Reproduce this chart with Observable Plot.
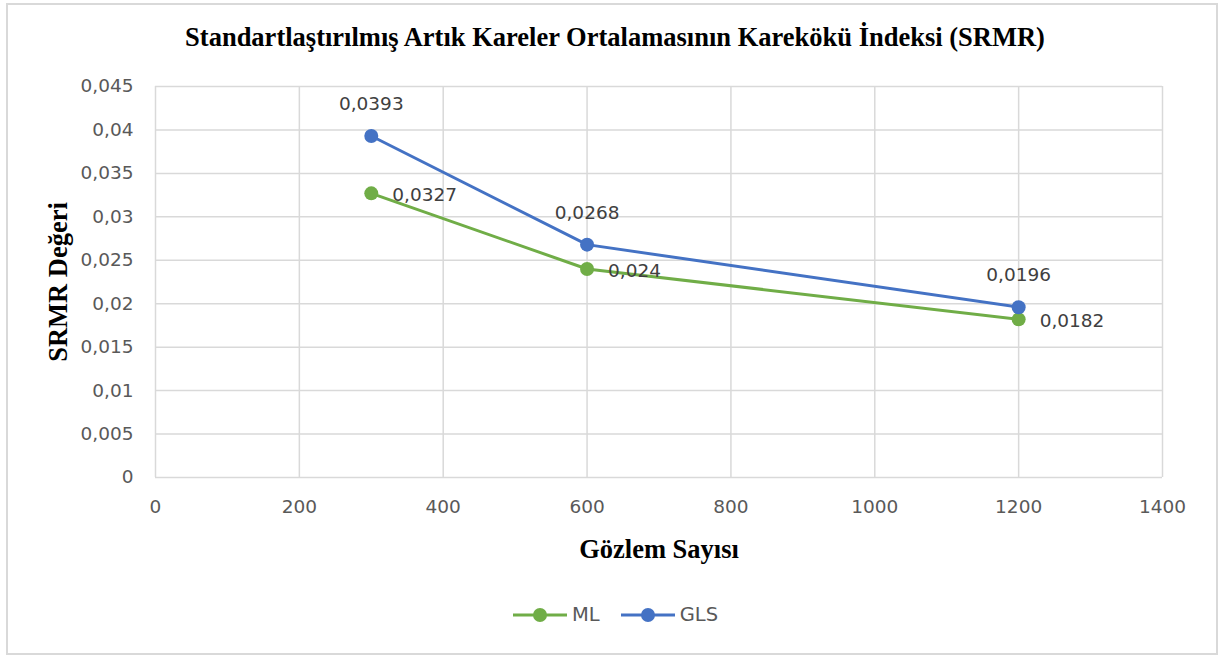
<!DOCTYPE html>
<html><head><meta charset="utf-8">
<script src="https://cdn.jsdelivr.net/npm/d3@7"></script>
<script src="https://cdn.jsdelivr.net/npm/@observablehq/plot@0.6"></script>
<style>
body{margin:0;background:#fff;}
#wrap{position:absolute;left:6px;top:3px;width:1208px;height:648px;border:2px solid #d9d9d9;box-sizing:content-box;}
#title{position:absolute;left:0;top:22px;width:1230px;text-align:center;font-family:"Liberation Serif","Times New Roman",serif;font-weight:bold;font-size:26.5px;color:#000;}
#chart{position:absolute;left:0;top:60px;}
#legend{position:absolute;left:0;top:603px;width:1230px;display:flex;justify-content:center;gap:20px;font-family:"DejaVu Sans",sans-serif;font-size:19.5px;color:#595959;}
.item{display:flex;align-items:center;gap:4px;}
</style></head>
<body>
<div id="wrap"></div>
<div id="title">Standartlaştırılmış Artık Kareler Ortalamasının Karekökü İndeksi (SRMR)</div>
<div id="chart"></div>
<div id="legend"></div>
<script>
const observations = [300, 600, 1200];
const mlValues = [0.0327, 0.024, 0.0182];
const glsValues = [0.0393, 0.0268, 0.0196];
const seriesNames = ["ML", "GLS"];
const seriesColors = ["#70AD47", "#4472C4"];
const xTicks = [0, 200, 400, 600, 800, 1000, 1200, 1400];
const yTicks = [0, 0.005, 0.01, 0.015, 0.02, 0.025, 0.03, 0.035, 0.04, 0.045];

const data = [];
observations.forEach((n, i) => {
  data.push({series: "ML", n, v: mlValues[i]});
  data.push({series: "GLS", n, v: glsValues[i]});
});
const fmt = v => String(v).replace(".", ",");
const ml = data.filter(d => d.series === "ML");
const gls = data.filter(d => d.series === "GLS");
const FONT = "'DejaVu Sans', sans-serif";

const chart = Plot.plot({
  width: 1230,
  height: 520,
  marginLeft: 155,
  marginRight: 68,
  marginTop: 26,
  marginBottom: 103,
  style: {fontFamily: FONT, fontSize: "18.5px", color: "#595959", background: "transparent"},
  x: {domain: [0, 1400]},
  y: {domain: [0, 0.045]},
  color: {domain: seriesNames, range: seriesColors},
  marks: [
    Plot.gridX(xTicks, {stroke: "#d9d9d9", strokeOpacity: 1, strokeWidth: 1.5}),
    Plot.gridY(yTicks, {stroke: "#d9d9d9", strokeOpacity: 1, strokeWidth: 1.5}),
    Plot.axisX(xTicks, {tickSize: 0, tickPadding: 22, tickFormat: d => String(d), fontSize: 18.5, fill: "#595959",
      label: "Gözlem Sayısı", labelAnchor: "center", labelArrow: "none", labelOffset: 80}),
    Plot.axisY(yTicks, {tickSize: 0, tickPadding: 22, tickFormat: fmt, fontSize: 18.5, fill: "#595959",
      label: "SRMR Değeri", labelAnchor: "center", labelArrow: "none", labelOffset: 107}),
    Plot.line(data, {x: "n", y: "v", z: "series", stroke: "series", strokeWidth: 3}),
    Plot.dot(data, {x: "n", y: "v", fill: "series", r: 7}),
    Plot.text(gls, {x: "n", y: "v", text: d => fmt(d.v), dy: -32, fill: "#404040", fontSize: 18.5}),
    Plot.text(ml, {x: "n", y: "v", text: d => fmt(d.v), dx: 21, dy: 2, textAnchor: "start", fill: "#404040", fontSize: 18.5})
  ]
});
// style axis labels (serif bold)
chart.querySelectorAll("g[aria-label='x-axis label'] text, g[aria-label='y-axis label'] text").forEach(t => {
  t.setAttribute("font-family", "'Liberation Serif', 'Times New Roman', serif");
  t.setAttribute("font-weight", "bold");
  t.setAttribute("font-size", "26.5px");
  t.setAttribute("fill", "#000");
  t.style.fontFamily = "'Liberation Serif', 'Times New Roman', serif";
});
chart.querySelectorAll("g[aria-label='x-axis label'], g[aria-label='y-axis label']").forEach(g => {
  g.setAttribute("font-size", "26.5px");
  g.setAttribute("fill", "#000");
  g.setAttribute("font-family", "'Liberation Serif', 'Times New Roman', serif");
});
document.getElementById("chart").appendChild(chart);

const legend = document.getElementById("legend");
seriesNames.forEach((name, i) => {
  const item = document.createElement("div");
  item.className = "item";
  const c = seriesColors[i];
  item.innerHTML = `<svg width="56" height="16"><line x1="1" y1="8" x2="55" y2="8" stroke="${c}" stroke-width="3"/><circle cx="28" cy="8" r="7" fill="${c}"/></svg><span>${name}</span>`;
  legend.appendChild(item);
});
</script>
</body></html>
